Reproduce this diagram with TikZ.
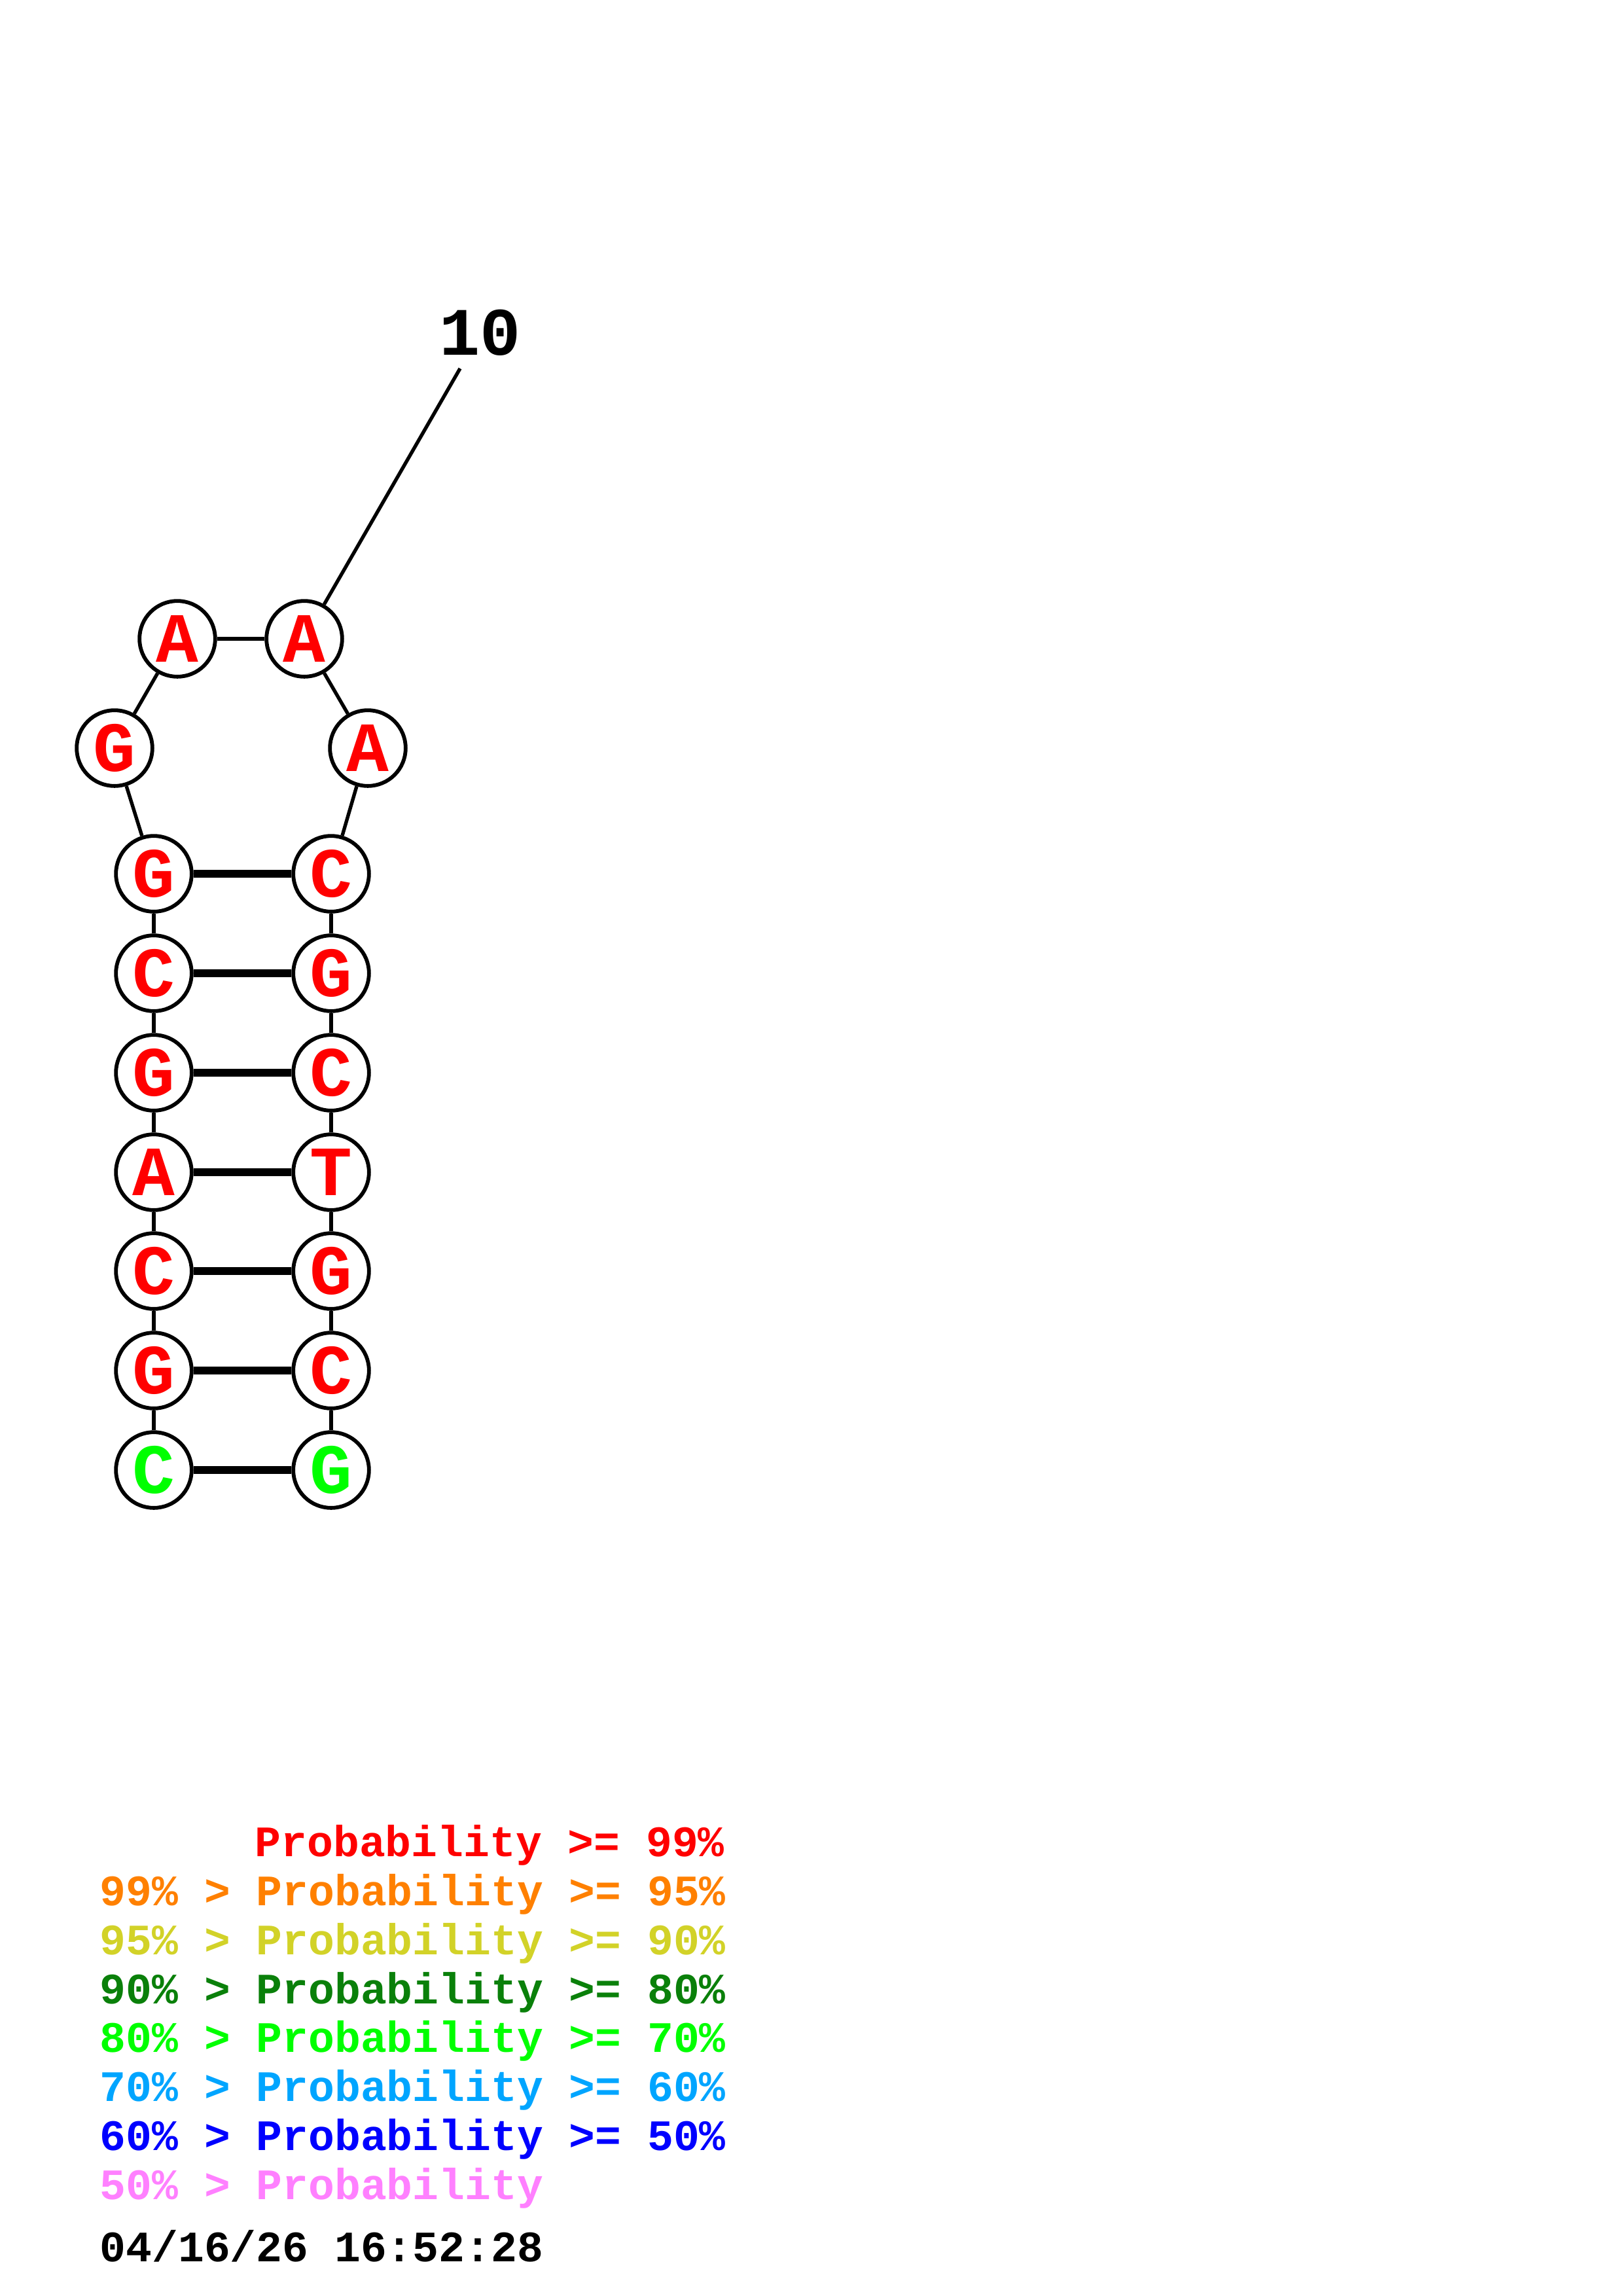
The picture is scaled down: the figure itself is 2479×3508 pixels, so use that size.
\documentclass[tikz,border=0pt]{standalone}
\usepackage{fontspec}
\setmainfont{Liberation Mono}
\usetikzlibrary{positioning}
\definecolor{pred}{RGB}{255,0,0}
\definecolor{porange}{RGB}{255,128,0}
\definecolor{pyellow}{RGB}{210,210,40}
\definecolor{pdkgreen}{RGB}{10,128,10}
\definecolor{pgreen}{RGB}{0,255,0}
\definecolor{plblue}{RGB}{0,165,255}
\definecolor{pblue}{RGB}{0,0,255}
\definecolor{ppink}{RGB}{255,128,255}

\begin{document}
\begin{tikzpicture}[x=0.08471mm,y=-0.08471mm,
    base/.style={circle,draw,line width=1.4pt,fill=white,minimum size=9.8mm,inner sep=0pt,
      font=\fontsize{26}{26}\selectfont\bfseries},
    bb/.style={line width=1.3pt},
    pair/.style={line width=2.9pt},
    legend/.style={anchor=base west,inner sep=0pt,font=\fontsize{16}{16}\selectfont\bfseries}]
        % page frame
        \useasboundingbox (0,0) rectangle (2479,3508);
        % Stem, left strand (5' end at the bottom)
        \node[base,text=pgreen] (n1) at (235,2246) {C};
        \node[base,text=pred] (n2) at (235,2094) {G};
        \node[base,text=pred] (n3) at (235,1942) {C};
        \node[base,text=pred] (n4) at (235,1791) {A};
        \node[base,text=pred] (n5) at (235,1639) {G};
        \node[base,text=pred] (n6) at (235,1487) {C};
        \node[base,text=pred] (n7) at (235,1335) {G};
        % Hairpin loop
        \node[base,text=pred] (n8) at (175,1143) {G};
        \node[base,text=pred] (n9) at (271,976) {A};
        \node[base,text=pred] (n10) at (465,976) {A};
        \node[base,text=pred] (n11) at (562,1143) {A};
        % Stem, right strand
        \node[base,text=pred] (n12) at (506,1335) {C};
        \node[base,text=pred] (n13) at (506,1487) {G};
        \node[base,text=pred] (n14) at (506,1639) {C};
        \node[base,text=pred] (n15) at (506,1791) {T};
        \node[base,text=pred] (n16) at (506,1942) {G};
        \node[base,text=pred] (n17) at (506,2094) {C};
        \node[base,text=pgreen] (n18) at (506,2246) {G};
        % Backbone
        \foreach \i [evaluate=\i as \j using int(\i+1)] in {1,...,17}
          \draw[bb] (n\i) -- (n\j);
        % Base pairs
        \foreach \i [evaluate=\i as \j using int(19-\i)] in {1,...,7}
          \draw[pair] (n\i) -- (n\j);
        % Position label
        \coordinate (tick10) at (703,563);
        \draw[bb] (n10) -- (tick10);
        \node[font=\fontsize{25}{25}\selectfont\bfseries] (lab10) at (734,508) {10};
        % Legend
        \node[legend,text=pred] (leg1) at (389,2836) {Probability >= 99\%};
        \node[legend,text=porange] (leg2) at (152,2911) {99\% > Probability >= 95\%};
        \node[legend,text=pyellow] (leg3) at (152,2986) {95\% > Probability >= 90\%};
        \node[legend,text=pdkgreen] (leg4) at (152,3061) {90\% > Probability >= 80\%};
        \node[legend,text=pgreen] (leg5) at (152,3135) {80\% > Probability >= 70\%};
        \node[legend,text=plblue] (leg6) at (152,3210) {70\% > Probability >= 60\%};
        \node[legend,text=pblue] (leg7) at (152,3285) {60\% > Probability >= 50\%};
        \node[legend,text=ppink] (leg8) at (152,3360) {50\% > Probability};
        \node[legend,text=black] (date) at (152,3455) {04/16/26 16:52:28};
\end{tikzpicture}
\end{document}
